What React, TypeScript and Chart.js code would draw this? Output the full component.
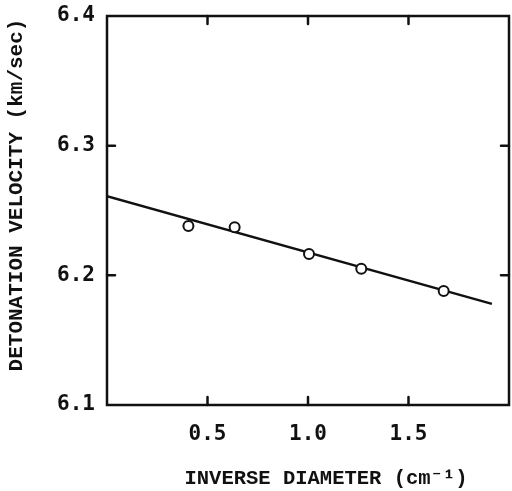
import React, { useEffect, useRef } from "react";
import { Chart, registerables } from "chart.js";

Chart.register(...registerables);

const invDiameter = [0.405, 0.635, 1.005, 1.265, 1.675];
const velocity = [6.238, 6.237, 6.2165, 6.205, 6.188];
const fitX = [0, 1.915];
const fitY = [6.261, 6.178];
const xTicks = [0.5, 1.0, 1.5];
const yTicks = [6.1, 6.2, 6.3, 6.4];
const innerYTicks = [6.2, 6.3];
const xTitle = "INVERSE DIAMETER (cm\u207B\u00B9)";
const yTitle = "DETONATION VELOCITY (km/sec)";

const INK = "#111111";

const framePlugin = {
  id: "frameAndTicks",
  afterDraw(chart: any) {
    const { ctx, chartArea } = chart;
    const xs = chart.scales.x;
    const ys = chart.scales.y;
    const { left, right, top, bottom } = chartArea;
    ctx.save();
    ctx.strokeStyle = INK;
    ctx.lineWidth = 2.5;
    ctx.lineCap = "round";
    ctx.strokeRect(left, top, right - left, bottom - top);
    const tl = 8;
    ctx.beginPath();
    for (const v of xTicks) {
      const px = xs.getPixelForValue(v);
      ctx.moveTo(px, bottom);
      ctx.lineTo(px, bottom - tl);
      ctx.moveTo(px, top);
      ctx.lineTo(px, top + tl);
    }
    for (const v of innerYTicks) {
      const py = ys.getPixelForValue(v);
      ctx.moveTo(left, py);
      ctx.lineTo(left + tl, py);
      ctx.moveTo(right, py);
      ctx.lineTo(right - tl, py);
    }
    ctx.stroke();

    ctx.fillStyle = INK;
    ctx.textAlign = "center";
    ctx.textBaseline = "middle";
    ctx.font = "bold 20.5px 'Liberation Mono', 'DejaVu Sans Mono', monospace";
    ctx.fillText(xTitle, 326, 479);
    ctx.translate(17, 195);
    ctx.rotate(-Math.PI / 2);
    ctx.font = "bold 21px 'Liberation Mono', 'DejaVu Sans Mono', monospace";
    ctx.fillText(yTitle, 0, 0);
    ctx.restore();
  },
};

export default function App() {
  const ref = useRef<HTMLCanvasElement | null>(null);
  useEffect(() => {
    if (!ref.current) return;
    const tickFont = { family: "'DejaVu Sans Mono', monospace", size: 21, weight: "bold" as const };
    const chart = new Chart(ref.current, {
      type: "scatter",
      data: {
        datasets: [
          {
            label: "data",
            data: invDiameter.map((x, i) => ({ x, y: velocity[i] })),
            pointRadius: 5,
            pointBorderWidth: 2,
            pointBackgroundColor: "#ffffff",
            pointBorderColor: INK,
            showLine: false,
            order: 0,
          },
          {
            label: "fit",
            data: fitX.map((x, i) => ({ x, y: fitY[i] })),
            showLine: true,
            borderColor: INK,
            borderWidth: 2.5,
            pointRadius: 0,
            order: 1,
          },
        ],
      },
      options: {
        animation: false,
        responsive: false,
        maintainAspectRatio: false,
        layout: { autoPadding: false, padding: { top: 16, right: 3, left: 0, bottom: 0 } },
        plugins: { legend: { display: false }, tooltip: { enabled: false } },
        scales: {
          x: {
            type: "linear",
            min: 0,
            max: 2.0,
            afterBuildTicks: (s: any) => {
              s.ticks = xTicks.map((v) => ({ value: v }));
            },
            afterFit: (s: any) => {
              s.height = 86;
              s.paddingLeft = 0;
              s.paddingRight = 0;
              s.paddingTop = 0;
              s.paddingBottom = 0;
            },
            grid: { display: false, drawTicks: false },
            border: { display: false },
            ticks: {
              padding: 17,
              color: INK,
              font: tickFont,
              callback: (v: any) => Number(v).toFixed(1),
            },
          },
          y: {
            type: "linear",
            min: 6.1,
            max: 6.4,
            afterBuildTicks: (s: any) => {
              s.ticks = yTicks.map((v) => ({ value: v }));
            },
            afterFit: (s: any) => {
              s.width = 107;
              s.paddingLeft = 0;
              s.paddingRight = 0;
              s.paddingTop = 0;
              s.paddingBottom = 0;
            },
            grid: { display: false, drawTicks: false },
            border: { display: false },
            ticks: {
              padding: 12,
              color: INK,
              font: tickFont,
              callback: (v: any) => Number(v).toFixed(1),
            },
          },
        },
      },
      plugins: [framePlugin],
    });
    return () => chart.destroy();
  }, []);
  return (
    <div style={{ position: "absolute", left: 0, top: 0, width: 512, height: 491, background: "#fff" }}>
      <canvas ref={ref} width={512} height={491} style={{ width: 512, height: 491, display: "block" }} />
    </div>
  );
}
